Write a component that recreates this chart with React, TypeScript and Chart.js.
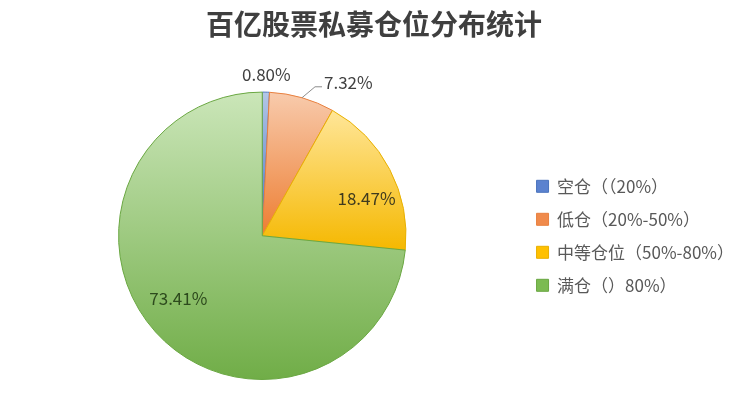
import { useEffect, useRef } from "react";
import Chart from "chart.js/auto";

// 数据
const categories = ["空仓（（20%）", "低仓（20%-50%）", "中等仓位（50%-80%）", "满仓（）80%）"];
const shares = [0.8, 7.32, 18.47, 73.41];
const shareLabels = ["0.80%", "7.32%", "18.47%", "73.41%"];

const FONT = '"Noto Sans CJK SC", "Noto Sans", sans-serif';

// 颜色（渐变：上浅下深）
const lightColors = ["#b4c7e7", "#f8cbad", "#ffe699", "#cbe6b9"];
const darkColors = ["#4472c4", "#ed7d31", "#f5b800", "#70ad47"];
const borderColors = ["#4a74bd", "#e8803f", "#e8b000", "#6aa742"];
const legendColors = ["#5b82cf", "#f08a4b", "#ffc000", "#7cbb52"];
const labelColors = ["#404040", "#404040", "#3f3a1e", "#2d4a1d"];

// 标签位置：扇区内角度比例、半径比例
const labelAngleFrac = [0.5, 0.5, 0.62, 0.52];
const labelRadiusFrac = [1.12, 1.1, 0.77, 0.73];

function sliceGradient(c: any) {
  const chart = c.chart;
  const area = chart.chartArea;
  const i = c.dataIndex ?? 0;
  if (!area) return darkColors[i];
  const cx = (area.left + area.right) / 2;
  const cy = (area.top + area.bottom) / 2;
  const r = Math.min(area.right - area.left, area.bottom - area.top) / 2;
  const total = shares.reduce((a, b) => a + b, 0);
  let before = 0;
  for (let k = 0; k < i; k++) before += shares[k];
  const a0 = -Math.PI / 2 + (before / total) * 2 * Math.PI;
  const a1 = a0 + (shares[i] / total) * 2 * Math.PI;
  let ymin = cy;
  let ymax = cy;
  for (const a of [a0, a1]) {
    const y = cy + r * Math.sin(a);
    ymin = Math.min(ymin, y);
    ymax = Math.max(ymax, y);
  }
  const inside = (t: number) => [t, t + 2 * Math.PI].some((v) => v >= a0 && v <= a1);
  if (inside(-Math.PI / 2)) ymin = cy - r;
  if (inside(Math.PI / 2)) ymax = cy + r;
  if (ymax - ymin < 1) ymax = ymin + 1;
  const g = chart.ctx.createLinearGradient(0, ymin, 0, ymax);
  g.addColorStop(0, lightColors[i]);
  g.addColorStop(1, darkColors[i]);
  return g;
}

const labelPlugin = {
  id: "sliceLabels",
  afterDatasetsDraw(chart: any) {
    const meta = chart.getDatasetMeta(0);
    const ctx = chart.ctx;
    ctx.save();
    ctx.font = `17px ${FONT}`;
    ctx.textBaseline = "middle";
    meta.data.forEach((arc: any, i: number) => {
      const { x, y, startAngle, endAngle, outerRadius } = arc.getProps(
        ["x", "y", "startAngle", "endAngle", "outerRadius"],
        true
      );
      const a = startAngle + (endAngle - startAngle) * labelAngleFrac[i];
      ctx.fillStyle = labelColors[i];
      if (i === 1) {
        // 引导线
        const ex = x + Math.cos(a + 0.06) * outerRadius * labelRadiusFrac[i];
        const ey = y + Math.sin(a + 0.06) * outerRadius * labelRadiusFrac[i];
        ctx.strokeStyle = "#8c8c8c";
        ctx.lineWidth = 1;
        ctx.beginPath();
        ctx.moveTo(x + Math.cos(a) * outerRadius, y + Math.sin(a) * outerRadius);
        ctx.lineTo(ex, ey);
        ctx.lineTo(ex + 7, ey);
        ctx.stroke();
        ctx.textAlign = "left";
        ctx.fillText(shareLabels[i], ex + 9, ey - 4);
      } else {
        const rr = outerRadius * labelRadiusFrac[i];
        ctx.textAlign = "center";
        ctx.fillText(shareLabels[i], x + Math.cos(a) * rr, y + Math.sin(a) * rr);
      }
    });
    ctx.restore();
  },
};

export default function App() {
  const chartRef = useRef<HTMLCanvasElement>(null);
  const chartInstance = useRef<Chart | null>(null);

  useEffect(() => {
    document.body.style.margin = "0";
    if (chartInstance.current) {
      chartInstance.current.destroy();
    }
    if (chartRef.current) {
      chartInstance.current = new Chart(chartRef.current, {
        type: "pie",
        data: {
          labels: categories,
          datasets: [
            {
              data: shares,
              backgroundColor: sliceGradient,
              borderColor: borderColors,
              borderWidth: 1,
            },
          ],
        },
        plugins: [labelPlugin],
        options: {
          responsive: true,
          maintainAspectRatio: false,
          animation: false,
          layout: { padding: { left: 4, right: 0, bottom: 36 } },
          plugins: {
            title: {
              display: true,
              text: "百亿股票私募仓位分布统计",
              color: "#3f3f3f",
              font: { size: 28, family: FONT, weight: "bold" },
              padding: { top: 8, bottom: 50 },
            },
            legend: {
              position: "right",
              fullSize: false,
              labels: {
                boxWidth: 12,
                boxHeight: 12,
                padding: 16,
                color: "#595959",
                font: { size: 17, family: FONT },
                generateLabels: () =>
                  categories.map((text, i) => ({
                    text,
                    fillStyle: legendColors[i],
                    strokeStyle: borderColors[i],
                    lineWidth: 1,
                    hidden: false,
                    index: i,
                    fontColor: "#595959",
                  })),
              },
            },
            tooltip: { enabled: false },
          },
        },
      });
    }
    return () => {
      if (chartInstance.current) {
        chartInstance.current.destroy();
        chartInstance.current = null;
      }
    };
  }, []);

  return (
    <div style={{ position: "relative", width: 744, height: 416, background: "#fff" }}>
      <canvas ref={chartRef} />
    </div>
  );
}
